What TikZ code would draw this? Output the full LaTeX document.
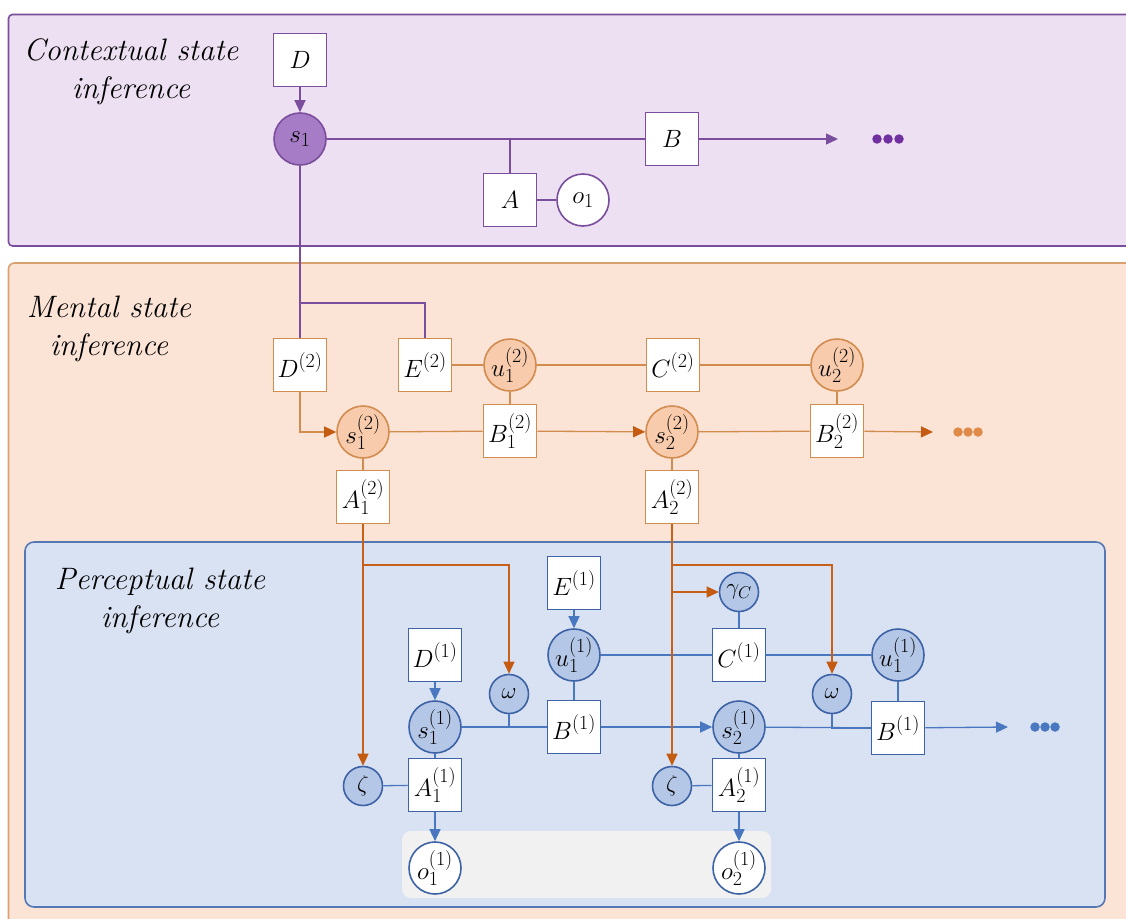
\RequirePackage{fix-cm}
\documentclass[tikz,border=0pt]{standalone}
\usetikzlibrary{arrows.meta}
\DeclareMathSizes{25}{25}{20}{15}
\DeclareMathSizes{23}{23}{17}{13}
\definecolor{purpPanel}{HTML}{ECE0F2}
\definecolor{purpEdge}{HTML}{7A4E9C}
\definecolor{purpFill}{HTML}{A67CC6}
\definecolor{purpDot}{HTML}{7030A0}
\definecolor{orPanel}{HTML}{FBE4D6}
\definecolor{orEdge}{HTML}{D9A170}
\definecolor{orLine}{HTML}{D38C50}
\definecolor{orFill}{HTML}{F7CBAC}
\definecolor{orDark}{HTML}{C55A11}
\definecolor{orDot}{HTML}{E08A4A}
\definecolor{blPanel}{HTML}{D9E2F3}
\definecolor{blEdge}{HTML}{5577B3}
\definecolor{blLine}{HTML}{4A78C0}
\definecolor{blFill}{HTML}{B4C7E7}
\definecolor{blDark}{HTML}{3D62A5}
\definecolor{obsGrey}{HTML}{F1F1F1}
\newcommand\lblfont{\fontsize{25}{29}\selectfont}
\newcommand\smlfont{\fontsize{23}{26}\selectfont}
\newcommand\ttlfont{\fontsize{31}{38}\selectfont\itshape}
\tikzset{
  boxbase/.style={rectangle, fill=white, minimum size=53pt, inner sep=0pt, line width=1.6pt, font=\lblfont},
  circbase/.style={circle, minimum size=52pt, inner sep=0pt, line width=1.6pt, font=\lblfont},
  smallcirc/.style={circle, minimum size=39pt, inner sep=0pt, line width=1.6pt, font=\smlfont, draw=blDark, fill=blFill},
  pbox/.style={boxbase, draw=purpEdge},
  pcirc/.style={circbase, draw=purpEdge, fill=purpFill},
  pobs/.style={circbase, draw=purpEdge, fill=white},
  obox/.style={boxbase, draw=orLine},
  ocirc/.style={circbase, draw=orLine, fill=orFill},
  bbox/.style={boxbase, draw=blDark},
  bcirc/.style={circbase, draw=blDark, fill=blFill},
  bobs/.style={circbase, draw=blDark, fill=white},
  pline/.style={draw=purpEdge, line width=1.3pt},
  parrow/.style={pline, -{Triangle[length=12pt,width=11pt]}},
  oline/.style={draw=orLine, line width=1.3pt},
  oarrow/.style={oline, -{Triangle[length=12pt,width=11pt,color=orDark]}},
  dline/.style={draw=orDark!85!orLine, line width=1.3pt},
  darrow/.style={dline, -{Triangle[length=12pt,width=11pt,color=orDark]}},
  bline/.style={draw=blLine, line width=1.3pt},
  barrow/.style={bline, -{Triangle[length=12pt,width=11pt]}},
  ttl/.style={align=center, font=\ttlfont, inner sep=0pt},
  dot/.style={circle, inner sep=0pt, minimum size=9.5pt}
}
\begin{document}
\begin{tikzpicture}[x=1pt,y=-1pt]
\useasboundingbox (0,0) rectangle (1126,918);
% panels
\fill[white] (0,0) rectangle (1126,918);
\draw[fill=purpPanel, draw=purpEdge, line width=1.6pt, rounded corners=4pt] (8.5,14.5) rectangle (1140,246);
\draw[fill=orPanel, draw=orEdge, line width=1.6pt, rounded corners=6pt] (8.5,263) rectangle (1140,935);
\draw[fill=blPanel, draw=blEdge, line width=1.6pt, rounded corners=9pt] (25,542) rectangle (1105,907);
\fill[obsGrey, rounded corners=9pt] (402,831) rectangle (771,898);

% titles
\node[ttl] (t1) at (131,72) {Contextual state\\inference};
\node[ttl] (t2) at (109,329) {Mental state\\inference};
\node[ttl] (t3) at (160,601) {Perceptual state\\inference};

% ---- top level
\node[pbox] (D) at (300,60) {$D$};
\node[pcirc] (s1) at (300,139) {$s_1$};
\node[pbox] (A) at (510,200) {$A$};
\node[pobs] (o1) at (583,200) {$o_1$};
\node[pbox] (B) at (672,139) {$B$};
\coordinate (Bend) at (838,139);
\foreach \i/\x in {1/877,2/888,3/899} \node[dot, fill=purpDot] (pd\i) at (\x,139) {};

\draw[parrow] (D) -- (s1);
\draw[pline] (s1) -- (B);
\draw[pline] (A) -- (A |- s1);
\draw[pline] (A) -- (o1);
\draw[parrow] (B) -- (Bend);

% ---- middle level
\node[obox] (D2) at (300,365) {$D^{(2)}$};
\node[obox] (E2) at (425,365) {$E^{(2)}$};
\node[ocirc] (u12) at (510,365) {$u_1^{(2)}$};
\node[obox] (C2) at (673,365) {$C^{(2)}$};
\node[ocirc] (u22) at (837,365) {$u_2^{(2)}$};
\node[ocirc] (s12) at (363,432) {$s_1^{(2)}$};
\node[obox] (B12) at (510,431) {$B_1^{(2)}$};
\node[ocirc] (s22) at (672,432) {$s_2^{(2)}$};
\node[obox] (B22) at (837,431) {$B_2^{(2)}$};
\node[obox] (A12) at (363,497) {$A_1^{(2)}$};
\node[obox] (A22) at (672,497) {$A_2^{(2)}$};
\coordinate (B22end) at (933,432);
\foreach \i/\x in {1/958,2/968,3/978} \node[dot, fill=orDot] (od\i) at (\x,432) {};

\coordinate (j1) at (300,303);
\draw[pline] (s1) -- (D2);
\draw[pline] (j1) -| (E2);

\draw[oline] (E2) -- (u12);
\draw[oline] (u12) -- (C2);
\draw[oline] (C2) -- (u22);
\draw[oarrow] (D2) |- (s12);
\draw[oline] (s12) -- (B12);
\draw[oarrow] (B12) -- (s22);
\draw[oline] (s22) -- (B22);
\draw[oarrow] (B22) -- (B22end);
\draw[oline] (u12) -- (B12);
\draw[oline] (u22) -- (B22);
\draw[oline] (s12) -- (A12);
\draw[oline] (s22) -- (A22);

% ---- bottom level
\node[bbox] (E1) at (574,583) {$E^{(1)}$};
\node[bcirc] (u11) at (574,655) {$u_1^{(1)}$};
\node[bbox] (D1) at (435,655) {$D^{(1)}$};
\node[bcirc] (s11) at (435,727) {$s_1^{(1)}$};
\node[smallcirc] (w1) at (509,694) {$\omega$};
\node[bbox] (B1) at (574,727) {$B^{(1)}$};
\node[smallcirc] (z1) at (363,786) {$\zeta$};
\node[bbox] (A11) at (435,785) {$A_1^{(1)}$};
\node[bobs] (o11) at (435,868) {$o_1^{(1)}$};

\node[smallcirc] (gc) at (739,592) {$\gamma_C$};
\node[bbox] (C1) at (739,655) {$C^{(1)}$};
\node[bcirc] (u11b) at (898,655) {$u_1^{(1)}$};
\node[smallcirc] (w2) at (832,694) {$\omega$};
\node[bcirc] (s21) at (739,727) {$s_2^{(1)}$};
\node[bbox] (B1b) at (898,728) {$B^{(1)}$};
\node[smallcirc] (z2) at (672,786) {$\zeta$};
\node[bbox] (A21) at (739,785) {$A_2^{(1)}$};
\node[bobs] (o21) at (739,868) {$o_2^{(1)}$};
\coordinate (B1bend) at (1008,727);
\foreach \i/\x in {1/1035,2/1045,3/1055} \node[dot, fill=blLine] (bd\i) at (\x,727) {};

\draw[barrow] (E1) -- (u11);
\draw[barrow] (D1) -- (s11);
\draw[bline] (u11) -- (C1);
\draw[bline] (C1) -- (u11b);
\draw[bline] (u11) -- (B1);
\draw[bline] (u11b) -- (B1b);
\draw[bline] (gc) -- (C1);
\draw[bline] (s11) -- (B1);
\draw[bline] (w1) |- (B1);
\draw[barrow] (B1) -- (s21);
\draw[bline] (s21) -- (B1b);
\draw[bline] (w2) |- (B1b);
\draw[barrow] (B1b) -- (B1bend);
\draw[bline] (s11) -- (A11);
\draw[bline] (s21) -- (A21);
\draw[bline] (z1) -- (A11);
\draw[bline] (z2) -- (A21);
\draw[barrow] (A11) -- (o11);
\draw[barrow] (A21) -- (o21);

% cross-level orange arrows
\coordinate (j2) at (363,565);
\coordinate (j3) at (672,565);
\coordinate (j4) at (672,592);
\draw[darrow] (A12) -- (z1);
\draw[darrow] (j2) -| (w1);
\draw[darrow] (A22) -- (z2);
\draw[darrow] (j3) -| (w2);
\draw[darrow] (j4) -- (gc);
\end{tikzpicture}
\end{document}
